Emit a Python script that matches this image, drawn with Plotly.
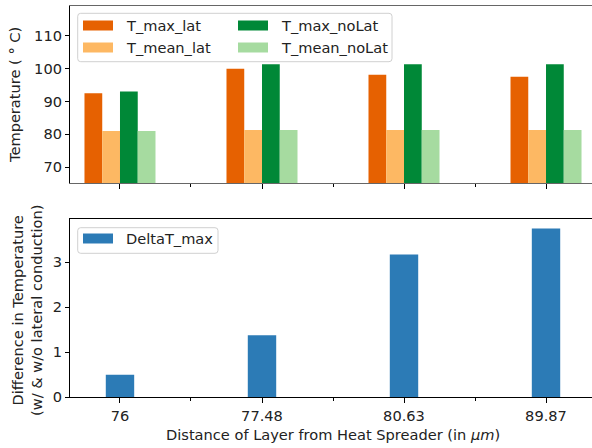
import plotly.graph_objects as go

# ---- data ----
categories = ["76", "77.48", "80.63", "89.87"]
T_max_lat = [92.5, 99.9, 98.1, 97.5]
T_mean_lat = [81.0, 81.3, 81.3, 81.3]
T_max_noLat = [93.0, 101.3, 101.3, 101.3]
T_mean_noLat = [81.0, 81.3, 81.3, 81.3]
DeltaT_max = [0.5, 1.38, 3.17, 3.75]
temp_ticks = [70, 80, 90, 100, 110]
delta_ticks = [0, 1, 2, 3]

# figure is a little wider than the 592 px window: the original axes run past the right edge
W, H = 604, 448
FONT = "DejaVu Sans"
FS = 14.6


def px(x):
    return x / W


def py(y):
    return 1 - y / H


xpos = list(range(len(categories)))
fig = go.Figure()

top_series = [
    ("T_max_lat", T_max_lat, "#e66101", -0.25),
    ("T_mean_lat", T_mean_lat, "#fdb863", -0.125),
    ("T_max_noLat", T_max_noLat, "#008837", 0.0),
    ("T_mean_noLat", T_mean_noLat, "#a6dba0", 0.125),
]
for name, vals, col, off in top_series:
    fig.add_trace(go.Bar(x=xpos, y=vals, name=name, width=0.125, offset=off,
                         marker=dict(color=col, line=dict(width=0)),
                         xaxis="x", yaxis="y", showlegend=False))

fig.add_trace(go.Bar(x=xpos, y=DeltaT_max, name="DeltaT_max", width=0.2, offset=-0.1,
                     marker=dict(color="#2c7bb6", line=dict(width=0)),
                     xaxis="x2", yaxis="y2", showlegend=False))

xrange = [-0.352, 3.352]
xdom = [px(70), px(596)]
common_x = dict(range=xrange, domain=xdom, showgrid=False, zeroline=False,
                tickmode="array", tickvals=xpos, ticks="outside", ticklen=5,
                tickwidth=1, tickcolor="#000", automargin=False,
                minor=dict(tickmode="array", tickvals=[0.5, 1.5, 2.5], ticks="outside",
                           ticklen=3, tickwidth=1, tickcolor="#000"),
                tickfont=dict(family=FONT, size=FS, color="#222"))

fig.update_layout(
    width=W, height=H, autosize=False,
    margin=dict(l=0, r=0, t=0, b=0, pad=0, autoexpand=False),
    paper_bgcolor="white", plot_bgcolor="white",
    barmode="overlay", showlegend=False,
    font=dict(family=FONT, size=FS, color="#222"),
    xaxis=dict(**common_x, anchor="y", showticklabels=False,
               showline=True, linecolor="rgba(0,0,0,0.6)", linewidth=1.2, mirror=True),
    yaxis=dict(domain=[py(183), py(5.7)], range=[65.2, 119.1], tickvals=temp_ticks,
               showgrid=False, zeroline=False, ticks="outside", ticklen=4, automargin=False,
               tickcolor="#000", showline=True, linecolor="#000", linewidth=1.2, mirror=False,
               tickfont=dict(family=FONT, size=FS, color="#222"), anchor="x"),
    xaxis2=dict(**common_x, anchor="y2", ticktext=categories, showticklabels=True,
                showline=True, linecolor="#000", linewidth=1.2, mirror=True),
    yaxis2=dict(domain=[py(397.3), py(219)], range=[0, 3.96], tickvals=delta_ticks,
                showgrid=False, zeroline=False, ticks="outside", ticklen=4, automargin=False,
                tickcolor="#000", showline=True, linecolor="#000", linewidth=1.2, mirror=False,
                tickfont=dict(family=FONT, size=FS, color="#222"), anchor="x2"),
)

# axis titles
fig.add_annotation(x=px(15), y=py(95), xref="paper", yref="paper", text="Temperature ( ° C)",
                   textangle=-90, showarrow=False, xanchor="center", yanchor="middle",
                   font=dict(family=FONT, size=FS, color="#222"))
fig.add_annotation(x=px(27), y=py(311), xref="paper", yref="paper",
                   text="Difference in Temperature<br>(w/ &amp; w/o lateral conduction)",
                   textangle=-90, showarrow=False, xanchor="center", yanchor="middle",
                   font=dict(family=FONT, size=FS, color="#222"))
fig.add_annotation(x=px(333), y=py(434), xref="paper", yref="paper",
                   text="Distance of Layer from Heat Spreader (in <i>μm</i>)",
                   showarrow=False, xanchor="center", yanchor="middle",
                   font=dict(family=FONT, size=FS, color="#222"))


# manual legends
def legend_box(x0, y0, x1, y1, r=3):
    X0, X1 = px(x0), px(x1)
    Y0, Y1 = py(y0), py(y1)
    rx, ry = r / W, r / H
    path = (f"M {X0+rx},{Y0} L {X1-rx},{Y0} Q {X1},{Y0} {X1},{Y0-ry} "
            f"L {X1},{Y1+ry} Q {X1},{Y1} {X1-rx},{Y1} L {X0+rx},{Y1} "
            f"Q {X0},{Y1} {X0},{Y1+ry} L {X0},{Y0-ry} Q {X0},{Y0} {X0+rx},{Y0} Z")
    fig.add_shape(type="path", path=path, xref="paper", yref="paper",
                  line=dict(color="#d0d0d0", width=1), fillcolor="rgba(255,255,255,0.8)")


def legend_entry(xp, yc, color, text):
    fig.add_shape(type="rect", xref="paper", yref="paper",
                  x0=px(xp), x1=px(xp + 30), y0=py(yc + 5), y1=py(yc - 5),
                  line=dict(width=0), fillcolor=color)
    fig.add_annotation(x=px(xp + 41), y=py(yc), xref="paper", yref="paper", text=text,
                       showarrow=False, xanchor="left", yanchor="middle",
                       font=dict(family=FONT, size=FS, color="#222"))


legend_box(77.7, 13.3, 392, 61.7)
legend_entry(83, 25.5, top_series[0][2], top_series[0][0])
legend_entry(83, 47.5, top_series[1][2], top_series[1][0])
legend_entry(238, 25.5, top_series[2][2], top_series[2][0])
legend_entry(238, 47.5, top_series[3][2], top_series[3][0])

legend_box(77.7, 227.7, 218, 253.3)
legend_entry(83, 238.5, "#2c7bb6", "DeltaT_max")

fig.write_html(
    "out.html", config=dict(displayModeBar=False),
    post_script=("document.body.style.margin='0';document.body.style.overflow='hidden';"
                 "document.documentElement.style.overflow='hidden';"))
